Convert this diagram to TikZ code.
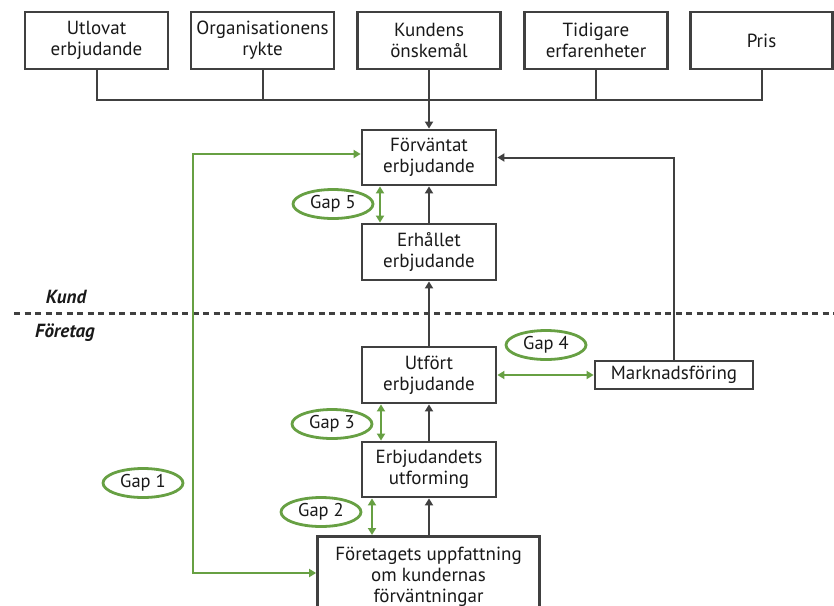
\documentclass[tikz,border=0pt]{standalone}
\usepackage{fontspec}
\setmainfont{PT Sans}
\usetikzlibrary{arrows.meta,shapes.geometric}
\definecolor{dk}{HTML}{404040}
\definecolor{gr}{HTML}{67A043}
\tikzset{
  box/.style={draw=dk, line width=2.8pt, fill=white, align=center, inner sep=0pt,
    font=\fontsize{19}{21}\selectfont, text=black!90},
  conn/.style={draw=dk, line width=2pt},
  darr/.style={conn, -{Triangle[length=7pt,width=8pt]}},
  gline/.style={draw=gr, line width=2.2pt},
  garr/.style={gline, {Triangle[length=7pt,width=8pt]}-{Triangle[length=7pt,width=8pt]}},
  gap/.style={ellipse, draw=gr, line width=2.8pt, fill=white, minimum width=80pt,
    minimum height=29pt, inner sep=0pt, font=\fontsize{18.5}{20}\selectfont, text=black!90},
  side/.style={font=\fontsize{19}{20}\selectfont\bfseries\itshape, text=black!90}
}
\begin{document}
\begin{tikzpicture}[x=1pt,y=-1pt]
\clip (0,0) rectangle (834,605);
\fill[white] (0,0) rectangle (834,605);
% top boxes
\node[box, minimum width=143pt, minimum height=57pt] (t1) at (96.5,40.5) {Utlovat\\erbjudande};
\node[box, minimum width=143pt, minimum height=57pt] (t2) at (262.5,40.5) {Organisationens\\rykte};
\node[box, minimum width=143pt, minimum height=57pt] (t3) at (429,40.5) {Kundens\\önskemål};
\node[box, minimum width=143pt, minimum height=57pt] (t4) at (596,40.5) {Tidigare\\erfarenheter};
\node[box, minimum width=142pt, minimum height=57pt] (t5) at (761.5,40.5) {Pris};
% middle column
\node[box, minimum width=134pt, minimum height=55pt] (fv) at (429,157.5) {Förväntat\\erbjudande};
\node[box, minimum width=134pt, minimum height=56pt] (eh) at (429,252) {Erhållet\\erbjudande};
\node[box, minimum width=134pt, minimum height=56pt] (ut) at (429,375) {Utfört\\erbjudande};
\node[box, minimum width=134pt, minimum height=55pt] (eu) at (429,469.5) {Erbjudandets\\utforming};
\node[box, minimum width=222pt, minimum height=90pt, anchor=north, text depth=14pt] (fu) at (428.5,535)
  {Företagets uppfattning\\om kundernas\\förväntningar};
\node[box, minimum width=158pt, minimum height=28pt] (mk) at (674,375) {Marknadsföring};
% side labels
\node[side] (kund) at (66,297) {Kund};
\node[side] (ftg) at (65,333) {Företag};
\coordinate (dl) at (14,313);
\coordinate (dr) at (834,313);
\draw[dk, line width=3pt, dash pattern=on 6pt off 4.5pt] (dl) -- (dr);
% bus
\coordinate (bus) at (0,100);
\draw[conn] (t1.south) |- (bus -| t5.south) -- (t5.south);
\draw[conn] (t2.south) -- (t2.south |- bus);
\draw[conn] (t4.south) -- (t4.south |- bus);
\draw[darr] (t3.south) -- (fv.north);
% dark arrows
\draw[darr] (eh.north) -- (fv.south);
\draw[darr] (ut.north) -- (eh.south);
\draw[darr] (eu.north) -- (ut.south);
\draw[darr] (fu.north -| eu.north) -- (eu.south);
\draw[darr] (mk.north) |- (fv.east);
% green connectors
\coordinate (gone) at (193,573);
\draw[garr] ([yshift=3.5pt]fv.west) -| (gone) -- (gone -| fu.west);
\draw[garr] ([xshift=-49pt]fv.south) -- ([xshift=-49pt]eh.north);
\draw[garr] ([xshift=-48pt]ut.south) -- ([xshift=-48pt]eu.north);
\draw[garr] ([xshift=-57pt]eu.south) -- ([xshift=-57pt]fu.north -| eu.south);
\draw[garr] (ut.east) -- (mk.west);
% gap ellipses
\node[gap] (g5) at (333,204) {Gap 5};
\node[gap] (g4) at (546,345) {Gap 4};
\node[gap] (g3) at (332,424) {Gap 3};
\node[gap] (g2) at (321,512) {Gap 2};
\node[gap] (g1) at (143,483) {Gap 1};
\end{tikzpicture}
\end{document}
